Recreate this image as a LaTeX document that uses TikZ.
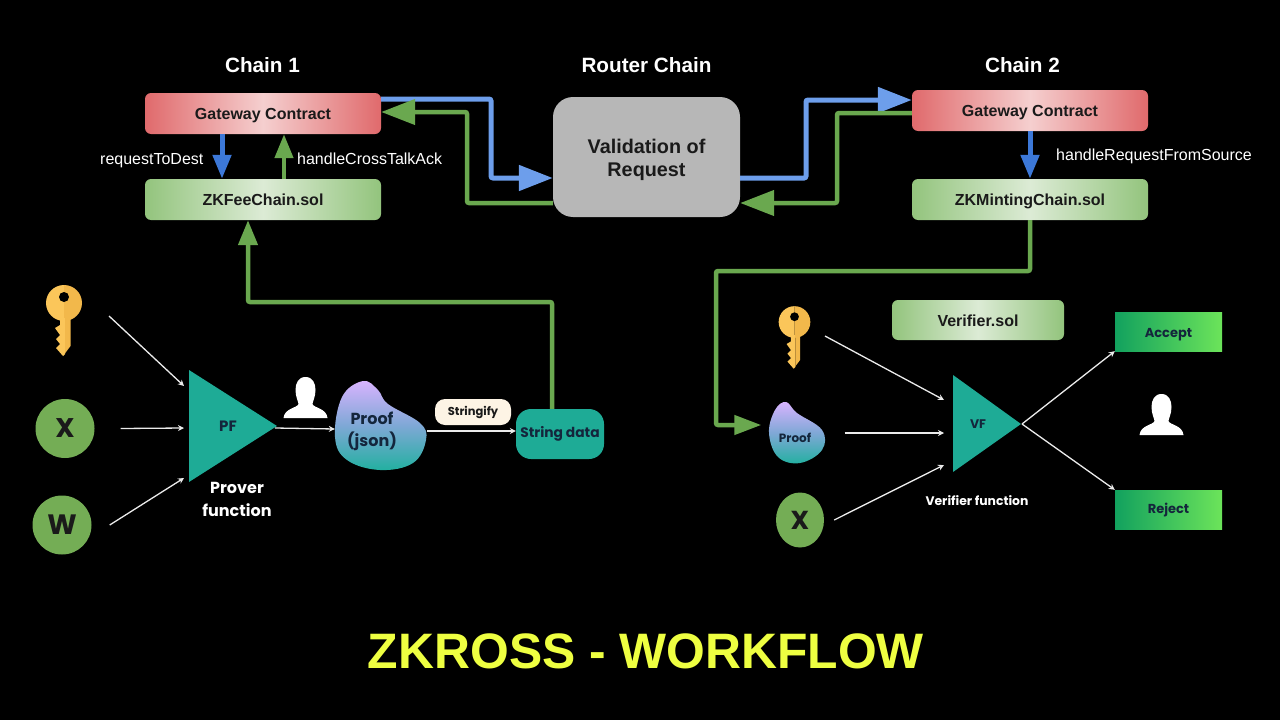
\documentclass[tikz,border=0pt]{standalone}
\usepackage{fontspec}
\setmainfont{Liberation Sans}
\newfontfamily\pop{Poppins}
\usetikzlibrary{arrows.meta,shapes.geometric,calc}
\definecolor{pblue}{HTML}{6D9EEB}
\definecolor{dblue}{HTML}{3C78D8}
\definecolor{pgreen}{HTML}{6AA84F}
\definecolor{circgreen}{HTML}{74AD55}
\definecolor{teal}{HTML}{1EAB96}
\definecolor{keyl}{HTML}{FBC65A}
\definecolor{keyd}{HTML}{F2B84B}
\definecolor{zyellow}{HTML}{EEFF41}
\definecolor{inkc}{HTML}{1A1A1A}
\definecolor{navy}{HTML}{14263C}
\definecolor{redend}{HTML}{E06A6C}
\definecolor{redmid}{HTML}{F5CFCF}
\definecolor{grnend}{HTML}{93C47D}
\definecolor{grnmid}{HTML}{DCEBD5}
\definecolor{resl}{HTML}{12A15E}
\definecolor{resr}{HTML}{6CE45A}
\definecolor{blobt}{HTML}{D9B3FF}
\definecolor{blobm}{HTML}{7FA8D6}
\definecolor{blobb}{HTML}{22B0A0}
\definecolor{routerc}{HTML}{B7B7B7}
\definecolor{creamc}{HTML}{FDF4E5}
\newcommand{\fs}[1]{\fontsize{#1}{#1}\selectfont}
\tikzset{
  x=1pt,y=-1pt,
  redbox/.style={rounded corners=6pt,left color=redend,right color=redend,middle color=redmid,minimum width=236pt,minimum height=41pt,inner sep=0pt,text height=12pt,text depth=0pt,text=inkc,font=\bfseries\fs{16}},
  greenbox/.style={rounded corners=6pt,left color=grnend,right color=grnend,middle color=grnmid,minimum width=236pt,minimum height=41pt,inner sep=0pt,text height=12pt,text depth=0pt,text=inkc,font=\bfseries\fs{16}},
  resultbox/.style={left color=resl,right color=resr,minimum width=107pt,minimum height=39pt,inner sep=0pt,text=navy,text depth=0pt,font=\pop\bfseries\fs{13}},
  titletext/.style={text=white,font=\bfseries\fs{20.7}},
  calltext/.style={text=white,font=\fs{16}},
  wlabel/.style={text=white,font=\pop\bfseries\fs{16}},
  circ/.style={circle,fill=circgreen,minimum size=59pt,inner sep=0pt,text=inkc,font=\pop\bfseries\fs{28}},
  thick blue/.style={draw=pblue,line width=5pt,rounded corners=2pt,-{Triangle[length=34pt,width=25pt]}},
  thick green/.style={draw=pgreen,line width=4.5pt,rounded corners=2pt,-{Triangle[length=34pt,width=25pt]}},
  short blue/.style={draw=dblue,line width=5pt,-{Triangle[length=24pt,width=18pt]}},
  short green/.style={draw=pgreen,line width=4.5pt,-{Triangle[length=24pt,width=18pt]}},
  wire/.style={draw=white!92!black,line width=1.3pt,-{Stealth[length=6pt,width=6pt]}},
  blobshade/.style={top color=blobt,bottom color=blobb,middle color=blobm},
  mykey/.pic={
    \fill[keyl] (0,-18) arc (-90:-270:18) -- cycle;
    \fill[keyd] (0,-18) arc (-90:90:18) -- cycle;
    \fill[keyl] (-4,15) -- (1,15) -- (1,51) -- (-1,53) -- (-8,45) -- (-4,41) -- (-8,36) -- (-4,32) -- (-9,25) -- (-4,22) -- cycle;
    \fill[keyd] (1,15) -- (6.5,15) -- (6.5,43) -- (-1,53) -- (1,50) -- cycle;
    \fill[black] (0,-6) circle (5);
  },
  myperson/.pic={
    \fill[white] (0,0) .. controls (7,0) and (10,6) .. (10,13) .. controls (10,20) and (7,25) .. (7,27)
      .. controls (8,31) and (21,31) .. (22,41) -- (-22,41)
      .. controls (-21,31) and (-8,31) .. (-7,27) .. controls (-7,25) and (-10,20) .. (-10,13) .. controls (-10,6) and (-7,0) .. (0,0) -- cycle;
  },
}
\begin{document}
\begin{tikzpicture}
\useasboundingbox (0,0) rectangle (1280,720);
\fill[black] (0,0) rectangle (1280,720);

% titles
\node[titletext] (t1) at (262.5,65) {Chain 1};
\node[titletext] (t2) at (646.5,65) {Router Chain};
\node[titletext] (t3) at (1022.5,65) {Chain 2};
\node[text=zyellow,font=\bfseries\fs{49.8}] (title) at (646,651) {ZKROSS - WORKFLOW};

% top boxes
\node[redbox] (gw1) at (263,113.5) {Gateway Contract};
\node[greenbox] (fee) at (263,199.5) {ZKFeeChain.sol};
\node[redbox] (gw2) at (1030,110.5) {Gateway Contract};
\node[greenbox] (mint) at (1030,199.5) {ZKMintingChain.sol};
\node[rounded corners=20pt,fill=routerc,minimum width=187pt,minimum height=120pt,inner sep=0pt,text=inkc,font=\bfseries\fs{19.8}] (router) at (646.5,157) {};
\node[align=center,inner sep=0pt,text=inkc,font=\bfseries\fs{19.8}] (routert) at (646.5,160) {Validation of\\[3pt]Request};

% lower left
\pic at (64,303) {mykey};
\coordinate (key1out) at (109,316);
\node[circ] (x1) at (65,428.5) {\fs{27}X};
\node[circ] (w1) at (62,525) {W};
\fill[teal] (189,370) -- (277,426) -- (189,482) -- cycle;
\coordinate (pfin) at (184,428);
\coordinate (pfina) at (184,386);
\coordinate (pfinb) at (184,478);
\coordinate (pfout) at (275,428);
\node[text=navy,font=\pop\bfseries\fs{15}] (pf) at (228,426) {PF};
\node[wlabel,align=center] (pflabel) at (237,499.5) {Prover\\[7pt]function};
\pic at (305.5,377) {myperson};
\shade[blobshade] plot[smooth cycle,tension=0.65] coordinates {(363,381) (378,390) (388,404) (420,423) (426,440) (413,463) (380,470) (347,460) (335,437) (342,397)};
\node[inner sep=0pt,minimum width=92pt,minimum height=80pt] (proof1) at (381,429) {};
\node[align=center,text=navy,font=\pop\bfseries\fs{16}] (proof1t) at (372,431) {Proof\\[6pt](json)};
\node[rounded corners=10pt,fill=creamc,minimum width=76pt,minimum height=26pt,inner sep=0pt,text=inkc,font=\pop\bfseries\fs{11.5}] (str) at (473,412) {Stringify};
\node[rounded corners=15pt,fill=teal,minimum width=88pt,minimum height=50pt,inner sep=0pt,text=navy,font=\pop\bfseries\fs{13.8}] (sdata) at (560,434) {String data};

% lower right
\node[greenbox,minimum width=172pt,minimum height=40pt] (ver) at (978,320) {Verifier.sol};
\pic[scale=0.88] at (794.5,322) {mykey};
\coordinate (key2out) at (825,336);
\shade[blobshade] plot[smooth cycle,tension=0.65] coordinates {(786,402) (797,413) (822,430) (822,450) (800,463) (778,457) (769,433) (775,410)};
\node[inner sep=0pt,minimum width=55pt,minimum height=62pt] (proof2) at (796,433) {};
\node[text=navy,font=\pop\bfseries\fs{12}] (proof2t) at (795,438) {Proof};
\node[ellipse,fill=circgreen,minimum width=48pt,minimum height=55pt,inner sep=0pt,text=inkc,font=\pop\bfseries\fs{26}] (x2) at (800,520) {X};
\fill[teal] (953,375) -- (1021,424) -- (953,472) -- cycle;
\coordinate (vfin) at (944,433);
\coordinate (vfina) at (944,400);
\coordinate (vfinb) at (944,465);
\coordinate (vfout) at (1022,424);
\node[text=navy,font=\pop\bfseries\fs{12.5}] (vf) at (978,424) {VF};
\node[text=white,font=\pop\bfseries\fs{12.4}] (vflabel) at (977,501) {Verifier function};
\node[resultbox,text height=11pt] (acc) at (1168.5,331.5) {Accept};
\node[resultbox,text height=7pt] (rej) at (1168.5,509.5) {Reject};
\pic at (1161.5,394) {myperson};

% call labels
\node[calltext,anchor=base west,inner sep=0pt] (l1) at (100,164.5) {requestToDest};
\node[calltext,anchor=base west,inner sep=0pt] (l2) at (297,164.5) {handleCrossTalkAck};
\node[calltext,anchor=base west,inner sep=0pt] (l3) at (1056,160.5) {handleRequestFromSource};

% connectors
\draw[thick blue] ([yshift=14.5pt]gw1.east) -| (491,178) -- ([yshift=-21pt]router.west);
\draw[thick green] ([yshift=-46pt]router.west) -| (467,112) -- ([yshift=1.5pt]gw1.east);
\draw[thick blue] ([yshift=-21pt]router.east) -| (806,100) -- ([yshift=10.5pt]gw2.west);
\draw[thick green] ([yshift=-2.5pt]gw2.west) -| (837,203) -- ([yshift=-46pt]router.east);
\draw[short blue] ([xshift=-41pt]gw1.south) -- ([xshift=-41pt]fee.north);
\draw[short green] ([xshift=21pt]fee.north) -- ([xshift=21pt]gw1.south);
\draw[short blue] (gw2.south) -- (mint.north);
\draw[thick green,-{Triangle[length=25pt,width=19pt]}] ([xshift=-8pt]sdata.north) |- (248,302) -- ([xshift=-15pt]fee.south);
\draw[thick green,-{Triangle[length=27pt,width=19pt]}] (mint.south) |- (716,271) |- ([xshift=-7pt,yshift=8pt]proof2.west);
\draw[wire] (key1out) -- (pfina);
\draw[wire] ([xshift=26pt]x1.east) -- (pfin);
\draw[wire] ([xshift=18pt]w1.east) -- (pfinb);
\draw[wire] (pfout) -- (proof1.west);
\draw[wire] ([yshift=-2pt]proof1.east) -- ([yshift=3pt]sdata.west);
\draw[wire] (key2out) -- (vfina);
\draw[wire] ([xshift=21pt]proof2.east) -- (vfin);
\draw[wire] ([xshift=10pt]x2.east) -- (vfinb);
\draw[wire] (vfout) -- (acc.south west);
\draw[wire] (vfout) -- (rej.north west);
\end{tikzpicture}
\end{document}
